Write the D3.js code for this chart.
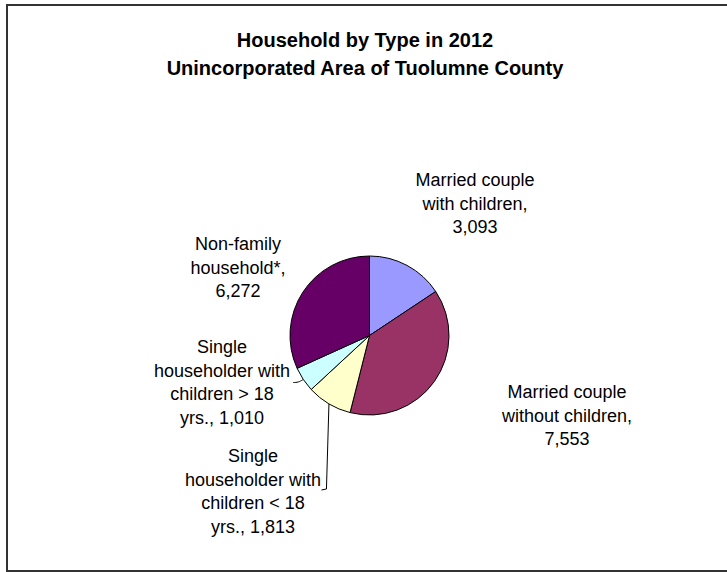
<!DOCTYPE html>
<html>
<head>
<meta charset="utf-8">
<script src="https://cdn.jsdelivr.net/npm/d3@7"></script>
<style>
  html, body { margin: 0; padding: 0; background: #fff; }
  svg { display: block; }
</style>
</head>
<body>
<svg id="chart" width="727" height="572"></svg>
<script>
// ---- data ----
const categories = [
  "Married couple with children",
  "Married couple without children",
  "Single householder with children < 18 yrs.",
  "Single householder with children > 18 yrs.",
  "Non-family household*"
];
const values = [3093, 7553, 1813, 1010, 6272];
const colors = ["#9999FF", "#993366", "#FFFFCC", "#CCFFFF", "#660066"];
const labelLines = [
  ["Married couple", "with children,", "3,093"],
  ["Married couple", "without children,", "7,553"],
  ["Single", "householder with", "children < 18", "yrs., 1,813"],
  ["Single", "householder with", "children > 18", "yrs., 1,010"],
  ["Non-family", "household*,", "6,272"]
];
const titleLines = ["Household by Type in 2012", "Unincorporated Area of Tuolumne County"];

// ---- layout ----
const svg = d3.select("#chart");
const cx = 369.5, cy = 335.5, R = 79.5;
const font = "'Liberation Sans', Arial, sans-serif";

// frame
svg.append("rect")
  .attr("x", 7).attr("y", 5).attr("width", 760).attr("height", 566)
  .attr("fill", "none").attr("stroke", "#333").attr("stroke-width", 2);

// title
svg.append("g").selectAll("text").data(titleLines).join("text")
  .attr("x", 365).attr("y", (d, i) => 47 + i * 28)
  .attr("text-anchor", "middle")
  .attr("font-family", font).attr("font-weight", "bold").attr("font-size", 20)
  .attr("fill", "#000")
  .text(d => d);

// pie
const pie = d3.pie().sort(null).value(d => d);
const arcs = pie(values);
const arc = d3.arc().innerRadius(0).outerRadius(R);
const g = svg.append("g").attr("transform", `translate(${cx},${cy})`);
g.selectAll("path").data(arcs).join("path")
  .attr("d", arc)
  .attr("fill", (d, i) => colors[i])
  .attr("stroke", "#000").attr("stroke-width", 1);

// label anchors (center x, first line y)
const labelPos = [
  [475, 180],
  [567, 392],
  [253, 456],
  [222, 347],
  [238, 244]
];
const lineH = 23.5;
const labels = svg.append("g").attr("font-family", font).attr("font-size", 18).attr("fill", "#000");
labelLines.forEach((lines, i) => {
  const t = labels.append("text")
    .attr("text-anchor", "middle")
    .attr("transform", `translate(${labelPos[i][0]},${labelPos[i][1]})`);
  lines.forEach((ln, j) => {
    t.append("tspan").attr("x", 0).attr("y", j * lineH + 6).text(ln);
  });
});

// leader lines from slice edge midpoints
const edge = d => {
  const a = (d.startAngle + d.endAngle) / 2;
  return [cx + R * Math.sin(a), cy - R * Math.cos(a)];
};
const p2 = edge(arcs[2]);
svg.append("path")
  .attr("d", d3.line()([p2, [p2[0] - 2.5, 489], [p2[0] - 7.5, 490]]))
  .attr("fill", "none").attr("stroke", "#000").attr("stroke-width", 1);
const p3 = edge(arcs[3]);
svg.append("path")
  .attr("d", d3.line().curve(d3.curveBasis)([p3, [p3[0] - 5, p3[1] + 3], [p3[0] - 10, p3[1] + 3]]))
  .attr("fill", "none").attr("stroke", "#000").attr("stroke-width", 1);
</script>
</body>
</html>
